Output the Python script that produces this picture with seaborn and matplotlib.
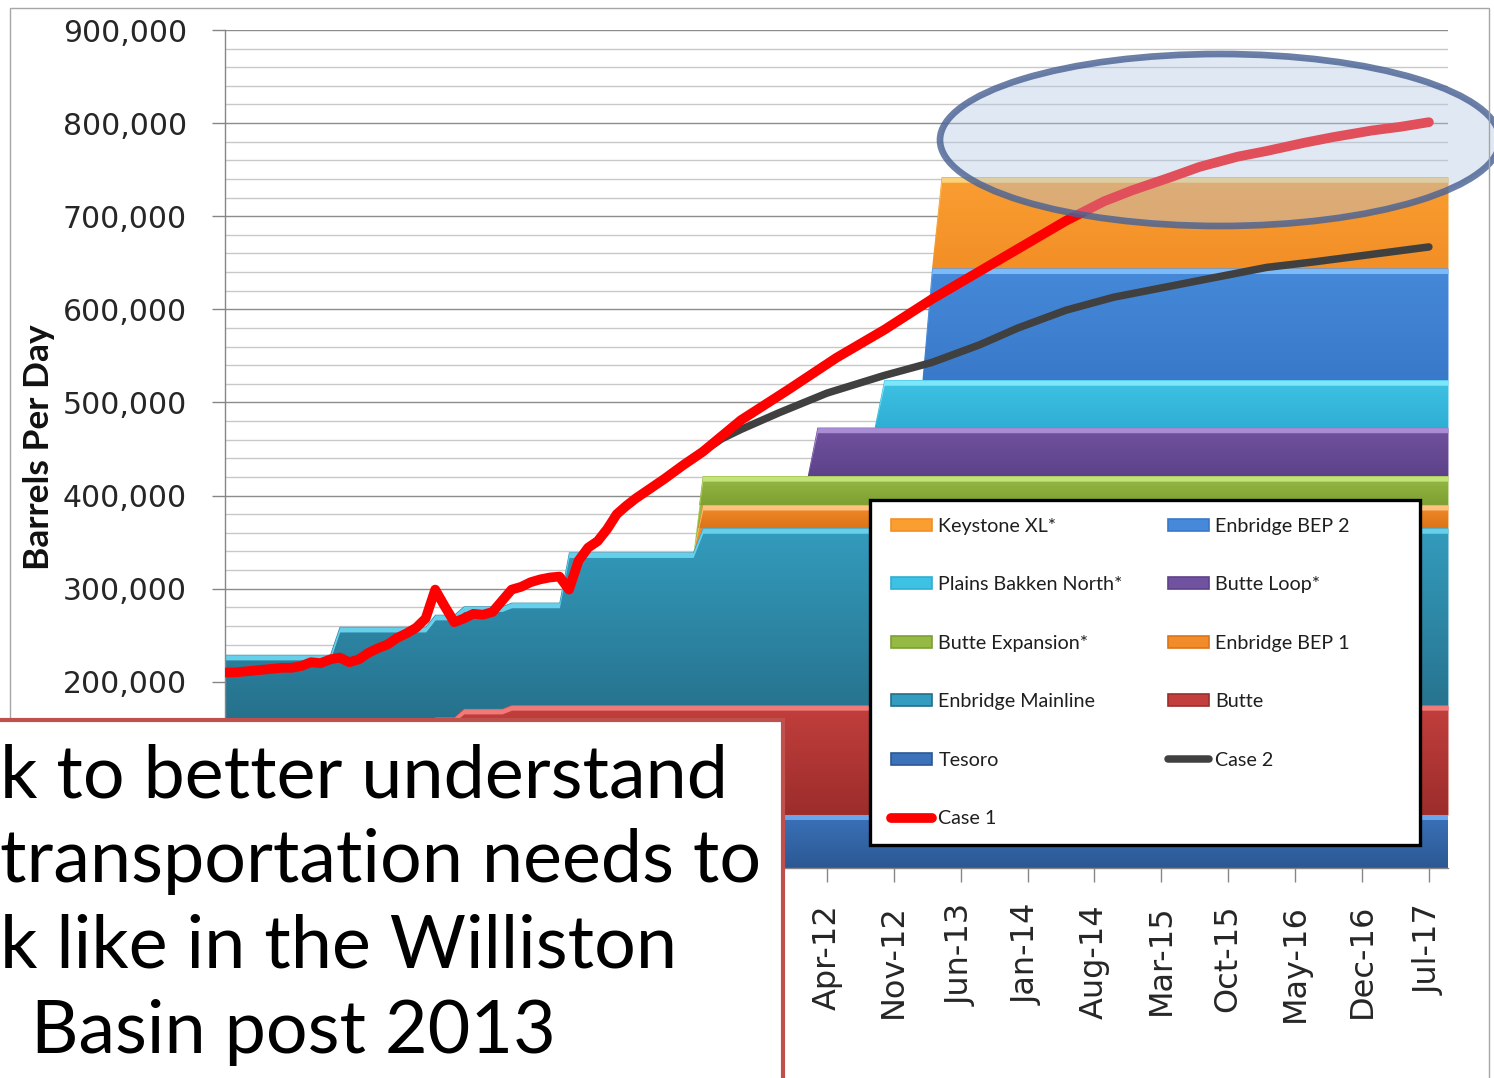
import numpy as np
import pandas as pd
import matplotlib
matplotlib.use("Agg")
import matplotlib.pyplot as plt
import seaborn as sns
from matplotlib.patches import Patch, Ellipse, Rectangle
from matplotlib.lines import Line2D
from matplotlib.colors import LinearSegmentedColormap
from matplotlib.ticker import MultipleLocator, FixedLocator, FixedFormatter

# ---------------------------------------------------------------- data
months = pd.date_range("2007-01-01", "2017-09-01", freq="MS").strftime("%b-%y").tolist()

# pipeline capacity in barrels per day: (month it takes effect, capacity)
tesoro_steps = [("Jan-07", 57000)]
butte_steps = [("Jan-07", 92000), ("Nov-08", 105000), ("Feb-09", 114000), ("Jul-09", 118000)]
mainline_steps = [("Jan-07", 80000), ("Jan-08", 110000), ("Jan-10", 164000), ("Mar-11", 190000)]
bep1_steps = [("Mar-11", 25000)]
butte_exp_steps = [("Mar-11", 31000)]
butte_loop_steps = [("Mar-12", 52000)]
pbn_steps = [("Oct-12", 51000)]
bep2_steps = [("Mar-13", 120000)]
kxl_steps = [("Apr-13", 98000)]

layer_names = ["Tesoro", "Butte", "Enbridge Mainline", "Enbridge BEP 1",
               "Butte Expansion*", "Butte Loop*", "Plains Bakken North*",
               "Enbridge BEP 2", "Keystone XL*"]
layer_steps = [tesoro_steps, butte_steps, mainline_steps, bep1_steps,
               butte_exp_steps, butte_loop_steps, pbn_steps, bep2_steps, kxl_steps]

# production forecasts
case1_months = ["Jan-07", "Feb-07", "Mar-07", "Apr-07", "May-07", "Jun-07", "Jul-07", "Aug-07",
                "Sep-07", "Oct-07", "Nov-07", "Dec-07", "Jan-08", "Feb-08", "Mar-08", "Apr-08",
                "May-08", "Jun-08", "Jul-08", "Aug-08", "Sep-08", "Oct-08", "Nov-08", "Dec-08",
                "Jan-09", "Feb-09", "Mar-09", "Apr-09", "May-09", "Jun-09", "Jul-09", "Aug-09",
                "Sep-09", "Oct-09", "Nov-09", "Dec-09", "Jan-10", "Feb-10", "Mar-10", "Apr-10",
                "May-10", "Jun-10", "Jul-10", "Aug-10", "Sep-10", "Nov-10", "Jan-11", "Mar-11",
                "Jul-11", "Dec-11", "May-12", "Oct-12", "Mar-13", "Aug-13", "Jan-14", "May-14",
                "Sep-14", "Dec-14", "Apr-15", "Jul-15", "Nov-15", "Feb-16", "Jun-16", "Sep-16",
                "Jan-17", "Apr-17", "Jul-17"]
case1_values = [210000, 210000, 211000, 212000, 213000, 214000, 215000, 215000,
                217000, 221000, 220000, 224000, 226000, 221000, 224000, 231000,
                236000, 240000, 247000, 252000, 258000, 268000, 299000, 281000,
                264000, 268000, 273000, 272000, 275000, 287000, 299000, 302000,
                307000, 310000, 312000, 313000, 299000, 330000, 344000, 351000,
                364000, 380000, 389000, 397000, 404000, 418000, 433000, 447000,
                481000, 514000, 548000, 578000, 611000, 641000, 671000, 695000,
                716000, 728000, 742000, 753000, 764000, 770000, 779000, 785000,
                792000, 796000, 801000]

case2_months = ["Jan-11", "Mar-11", "May-11", "Jul-11", "Nov-11", "Apr-12", "Oct-12", "Mar-13",
                "Aug-13", "Dec-13", "May-14", "Oct-14", "Apr-15", "Sep-15", "Feb-16", "Jul-16",
                "Jan-17", "Jul-17"]
case2_values = [433000, 447000, 461000, 471000, 489000, 510000, 529000, 543000,
                562000, 580000, 599000, 613000, 625000, 635000, 645000, 651000,
                659000, 667000]

# axis labelling
x_tick_months = ["Jan-07", "Aug-07", "Mar-08", "Oct-08", "May-09", "Dec-09", "Jul-10",
                 "Feb-11", "Sep-11", "Apr-12", "Nov-12", "Jun-13", "Jan-14", "Aug-14",
                 "Mar-15", "Oct-15", "May-16", "Dec-16", "Jul-17"]
x_labelled_months = ["Apr-12", "Nov-12", "Jun-13", "Jan-14", "Aug-14", "Mar-15", "Oct-15",
                     "May-16", "Dec-16", "Jul-17"]
y_ticks = [0, 100000, 200000, 300000, 400000, 500000, 600000, 700000, 800000, 900000]
y_labelled = [200000, 300000, 400000, 500000, 600000, 700000, 800000, 900000]

callout_lines = ["k to better understand", "transportation needs to",
                 "k like in the Williston", "Basin post 2013"]

# ---------------------------------------------------------------- styles
band_style = {  # highlight, upper body, lower body
    "Tesoro": ("#6AA4EA", "#3C72BA", "#2B5893"),
    "Butte": ("#F07A78", "#C23F3D", "#9C2D2B"),
    "Enbridge Mainline": ("#66CFEA", "#349CBE", "#256F89"),
    "Enbridge BEP 1": ("#FFC27E", "#F28C2A", "#DC7418"),
    "Butte Expansion*": ("#C4E27A", "#95BA44", "#7E9F33"),
    "Butte Loop*": ("#A98DD4", "#7152A0", "#5D4289"),
    "Plains Bakken North*": ("#7FE6FA", "#3EC2E4", "#2FAED3"),
    "Enbridge BEP 2": ("#7DBBF8", "#4689D9", "#3A79C9"),
    "Keystone XL*": ("#F9D27A", "#FA9E32", "#F28F26"),
}
case_style = {"Case 1": ("#FF0000", 7.0), "Case 2": ("#404040", 5.4)}

sns.set_theme(style="white")
plt.rcParams["font.family"] = ["DejaVu Sans"]

W, H = 1494, 1078
fig = plt.figure(figsize=(W / 100, H / 100), dpi=100)


def fx(px):
    return px / W


def fy(py):
    return 1 - py / H


ax = fig.add_axes([fx(225), fy(868), fx(1448) - fx(225), fy(30) - fy(868)])
x = np.arange(len(months))


def expand(steps):
    vals = np.zeros(len(months))
    for m, v in steps:
        vals[months.index(m):] = v
    return vals


# stacked capacity bands with a soft vertical gradient and a bevel highlight
base = np.zeros(len(months))
grad = np.linspace(0, 1, 256)[:, None]
for name, steps in zip(layer_names, layer_steps):
    vals = expand(steps)
    lo, hi = base.copy(), base + vals
    hl, top_c, bot_c = band_style[name]
    poly = ax.fill_between(x, lo, hi, facecolor=top_c, lw=0, zorder=2)
    ymin = lo[vals > 0].min()
    ymax = hi.max()
    cmap = LinearSegmentedColormap.from_list(name, [bot_c, top_c])
    im = ax.imshow(grad, extent=(x[0], x[-1], ymin, ymax), origin="lower",
                   aspect="auto", cmap=cmap, zorder=2.1, interpolation="bilinear")
    im.set_clip_path(poly.get_paths()[0], transform=ax.transData)
    ax.fill_between(x, np.maximum(lo, hi - 5500), hi, facecolor=hl, lw=0, zorder=2.2)
    base = hi

# forecast lines
for label, mlist, vlist, z in [("Case 2", case2_months, case2_values, 4),
                               ("Case 1", case1_months, case1_values, 4.5)]:
    df = pd.DataFrame({"month": [months.index(m) for m in mlist], "bpd": vlist})
    col, lw = case_style[label]
    sns.lineplot(data=df, x="month", y="bpd", color=col, lw=lw, ax=ax, zorder=z,
                 solid_capstyle="round", solid_joinstyle="round")

ax.set_xlim(x[0], x[-1])
ax.set_ylim(0, 900000)
ax.set_xlabel("")
ax.set_ylabel("")

ax.xaxis.set_major_locator(FixedLocator([months.index(m) for m in x_tick_months]))
ax.xaxis.set_major_formatter(FixedFormatter(
    [m if m in x_labelled_months else "" for m in x_tick_months]))
ax.yaxis.set_major_locator(FixedLocator(y_ticks))
ax.yaxis.set_major_formatter(FixedFormatter(
    [f"{v:,.0f}" if v in y_labelled else "" for v in y_ticks]))
ax.yaxis.set_minor_locator(MultipleLocator(20000))
for lab in ax.get_xticklabels():
    lab.set_rotation(90)

ax.set_axisbelow(True)
ax.yaxis.grid(True, which="major", color="#8C8C8C", lw=1.0, zorder=0)
ax.yaxis.grid(True, which="minor", color="#C8C8C8", lw=1.0, zorder=0)
ax.xaxis.grid(False)
for s in ["top", "right"]:
    ax.spines[s].set_visible(False)
for s in ["left", "bottom"]:
    ax.spines[s].set_color("#868686")
    ax.spines[s].set_linewidth(1.0)

ax.tick_params(axis="y", which="major", left=True, length=9.4, width=1, color="#868686",
               pad=18, labelsize=21.5, labelcolor="#262626")
ax.tick_params(axis="y", which="minor", left=False, length=0)
ax.tick_params(axis="x", bottom=True, length=10, width=1, color="#868686",
               pad=16, labelsize=23, labelcolor="#262626", labelrotation=90)

fig.text(fx(39), fy(447), "Barrels Per Day", rotation=90, ha="center", va="center",
         family="Lato", fontweight="bold", fontsize=25.5, color="#111111")

# legend
name_to_handle = {}
for name in layer_names:
    hl, top_c, bot_c = band_style[name]
    name_to_handle[name] = Patch(facecolor=top_c, edgecolor=bot_c, lw=1.2)
for label, (col, lw) in case_style.items():
    name_to_handle[label] = Line2D([], [], color=col, lw=lw, solid_capstyle="round")

legend_order = ["Keystone XL*", "Plains Bakken North*", "Butte Expansion*", "Enbridge Mainline",
                "Tesoro", "Case 1", "Enbridge BEP 2", "Butte Loop*", "Enbridge BEP 1", "Butte",
                "Case 2"]
ax.add_patch(Rectangle((fx(870), fy(845)), fx(1420) - fx(870), fy(500) - fy(845),
                       transform=fig.transFigure, facecolor="white", edgecolor="black",
                       lw=2.4, zorder=4.9, clip_on=False))
leg = ax.legend([name_to_handle[n] for n in legend_order], legend_order, ncol=2,
                loc="upper left", bbox_to_anchor=(fx(891), fy(518)),
                bbox_transform=fig.transFigure, frameon=False,
                prop={"family": "Lato", "size": 14.2}, handlelength=2.1, handleheight=0.55,
                handletextpad=0.3, labelspacing=2.1, columnspacing=2.3,
                borderpad=0, borderaxespad=0)
leg.set_zorder(5)
for t in leg.get_texts():
    t.set_color("#1F1F1F")

# highlight ellipse around the capacity shortfall
ax.add_patch(Ellipse((fx(1220), fy(140)), fx(560), 172 / H, transform=fig.transFigure,
                     facecolor=(0.70, 0.78, 0.89, 0.40), edgecolor=(0.29, 0.39, 0.58, 0.82),
                     lw=4.8, zorder=6, clip_on=False))

# chart frame
fig.add_artist(Rectangle((fx(10), fy(1100)), fx(1489) - fx(10), fy(8) - fy(1100),
                         transform=fig.transFigure, facecolor="none", edgecolor="#A6A6A6",
                         lw=1.0, zorder=1))

# call-out text box
fig.add_artist(Rectangle((fx(-10), fy(1100)), fx(783) - fx(-10), fy(720) - fy(1100),
                         transform=fig.transFigure, facecolor="white", edgecolor="#C0504D",
                         lw=3.0, zorder=20))
callout_pos = [(0, 797), (0, 882), (0, 968), (31, 1053)]
for txt, (px, py) in zip(callout_lines, callout_pos):
    fig.text(fx(px), fy(py), txt, ha="left", va="baseline", family="Lato",
             fontsize=53, color="black", zorder=21)

fig.savefig("out.png", dpi=100)
